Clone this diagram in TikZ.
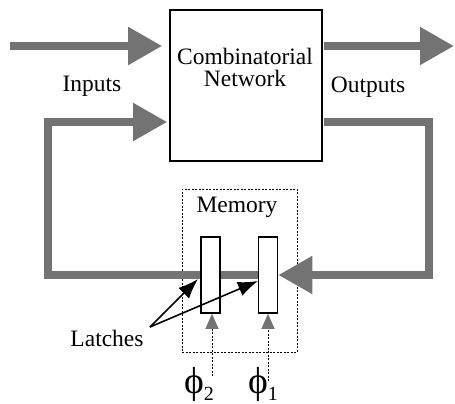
\documentclass[tikz,border=0pt]{standalone}
\usepackage{fontspec}
\setmainfont{Liberation Serif}
\newfontfamily\labelfont{Liberation Serif}
\usetikzlibrary{arrows.meta}

\newcommand{\phisub}[1]{\scalebox{1.6}{ϕ}\raisebox{-7pt}{\fontsize{20}{20}\selectfont #1}}

\begin{document}
\begin{tikzpicture}[x=1pt,y=-1pt,
  bus/.style={line width=8pt, draw=black!55, line join=miter},
  bushead/.style={-{Triangle[length=34pt,width=36pt]}},
  clk/.style={dash pattern=on 2pt off 1.5pt, line width=1pt,
    -{Triangle[length=15pt,width=13pt,color=black!55]}},
  latchbox/.style={draw, line width=1.6pt, fill=white, minimum width=19pt,
    minimum height=76pt, inner sep=0pt},
  pointer/.style={line width=1.6pt, -{Latex[length=20pt,width=15pt]}},
  lbl/.style={font=\labelfont\fontsize{23.5}{22}\selectfont, inner sep=0pt}]
  \useasboundingbox (0,0) rectangle (455,404);

  % combinatorial network
  \node[draw, line width=1.6pt, minimum width=152pt, minimum height=151pt] (comb) at (246,85.5) {};
  \node[lbl, align=center] (combtext) at (245,67) {Combinatorial\\Network};
  \node[lbl] (inputs) at (92,86) {Inputs};
  \node[lbl] (outputs) at (368,87) {Outputs};

  % memory and latches
  \node[draw, dash pattern=on 2pt off 1.5pt, line width=1pt, minimum width=115pt,
    minimum height=163pt] (mem) at (239.5,270.5) {};
  \node[lbl] (memtext) at (237,207) {Memory};

  \coordinate (in) at (10,46);
  \coordinate (out) at (454,46);
  \coordinate (fb) at (429,122);
  \coordinate (fbl) at (48,122);

  % buses
  \draw[bus, bushead] (in) -- ([xshift=-7pt]comb.west |- in);
  \draw[bus, bushead] ([xshift=1pt]comb.east |- out) -- (out);
  \node[latchbox] (latchB) at (210.5,275) {};
  \node[latchbox] (latchA) at (268,275) {};
  \draw[bus, bushead] ([xshift=1pt]comb.east |- fb) -- (fb) |- (latchA.east);
  \draw[bus] (latchA.west) -- (latchB.east);
  \draw[bus, bushead] (latchB.west) -| (fbl) -- ([xshift=-2pt]comb.west |- fbl);
  \node[latchbox] at (latchB) {};
  \node[latchbox] at (latchA) {};

  % latches label
  \node[lbl] (latches) at (107,338) {Latches};
  \coordinate (lp) at (150,327);
  \draw[pointer] (lp) -- (198,279);
  \draw[pointer] (lp) -- (258,281);

  % clocks
  \node[lbl] (phiB) at (199,384) {\phisub{2}};
  \node[lbl] (phiA) at (263,384) {\phisub{1}};
  \draw[clk] (212,376) -- ([xshift=1.5pt]latchB.south);
  \draw[clk] (268,381) -- (latchA.south);
\end{tikzpicture}
\end{document}
